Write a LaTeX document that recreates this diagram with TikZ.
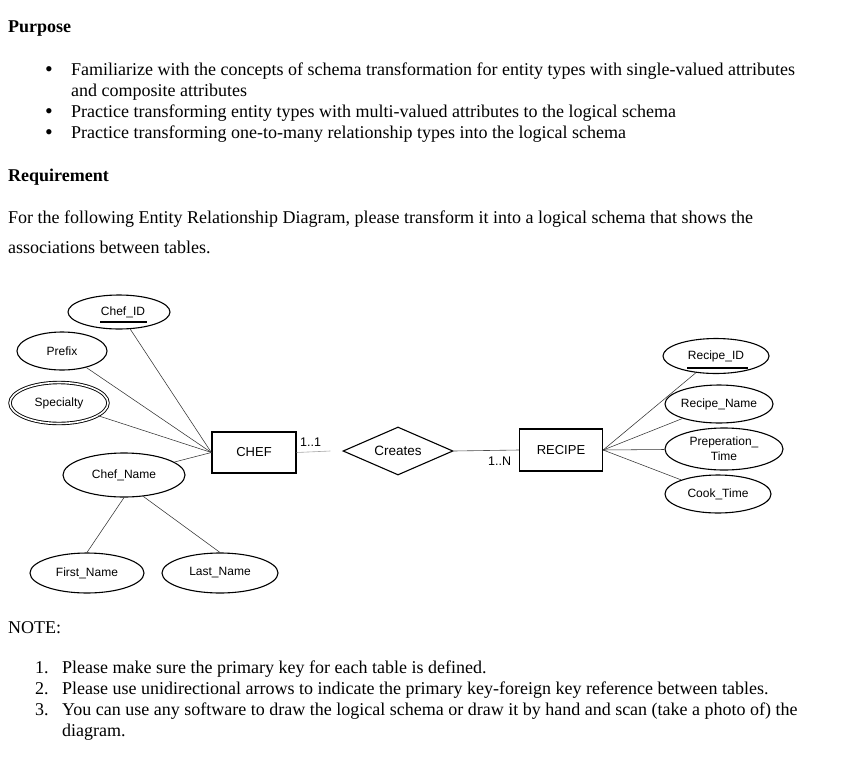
\documentclass[tikz,border=0pt]{standalone}
\usepackage{fontspec}
\setmainfont{Liberation Serif}
\newfontfamily\diag{Liberation Sans}
\usetikzlibrary{shapes.geometric}
\begin{document}
\begin{tikzpicture}[x=1pt,y=-1pt,
  body/.style={anchor=base west,inner sep=0pt,font=\fontsize{18}{21}\selectfont},
  bul/.style={anchor=base west,inner sep=0pt,font=\fontsize{22}{21}\selectfont},
  head/.style={anchor=base west,inner sep=0pt,font=\fontsize{18}{21}\selectfont\bfseries},
  attr/.style={ellipse,draw,line width=1.1pt,inner sep=0pt,font=\diag\fontsize{12}{13}\selectfont,align=center},
  ent/.style={rectangle,draw,line width=1.3pt,inner sep=0pt,font=\diag\fontsize{13}{15}\selectfont},
  rel/.style={diamond,draw,line width=1.1pt,inner sep=0pt,font=\diag\fontsize{13.5}{15}\selectfont},
  conn/.style={draw=black!80,line width=0.55pt},
  card/.style={anchor=base west,inner sep=0pt,font=\diag\fontsize{12.5}{14}\selectfont},
  pk/.style={line width=1.6pt}
]
\useasboundingbox (0,0) rectangle (841,774);

% ---- text ----
\node[head] (purpose) at (8,32) {Purpose};
\node[bul] (b1) at (45,76) {\textbullet};
\node[body] (t1) at (71,75) {Familiarize with the concepts of schema transformation for entity types with single-valued attributes};
\node[body] (t1b) at (71,96) {and composite attributes};
\node[bul] (b2) at (45,118) {\textbullet};
\node[body] (t2) at (71,117) {Practice transforming entity types with multi-valued attributes to the logical schema};
\node[bul] (b3) at (45,139) {\textbullet};
\node[body] (t3) at (71,138) {Practice transforming one-to-many relationship types into the logical schema};

\node[head] (req) at (8,181) {Requirement};
\node[body] (r1) at (8,223) {For the following Entity Relationship Diagram, please transform it into a logical schema that shows the};
\node[body] (r2) at (8,253) {associations between tables.};

\node[body] (note) at (8,633) {NOTE:};
\node[body] (n1) at (35,673) {1.};
\node[body] (n1t) at (62,673) {Please make sure the primary key for each table is defined.};
\node[body] (n2) at (35,694) {2.};
\node[body] (n2t) at (62,694) {Please use unidirectional arrows to indicate the primary key-foreign key reference between tables.};
\node[body] (n3) at (35,715) {3.};
\node[body] (n3t) at (62,715) {You can use any software to draw the logical schema or draw it by hand and scan (take a photo of) the};
\node[body] (n3b) at (62,736) {diagram.};

% ---- diagram ----
\node[ent,minimum width=84pt,minimum height=41pt] (chef) at (254,452.5) {CHEF};
\node[ent,minimum width=83pt,minimum height=42pt] (recipe) at (561,450) {RECIPE};
\node[rel,minimum width=110pt,minimum height=48pt,aspect=2.3] (creates) at (398,451) {Creates};

\node[attr,minimum width=102pt,minimum height=34pt] (cid) at (119,312) {\hspace*{8pt}Chef\_ID};
\node[attr,minimum width=90pt,minimum height=38pt] (prefix) at (62,351) {Prefix};
\node[attr,minimum width=98pt,minimum height=41pt,double,double distance=1.6pt,line width=0.9pt] (spec) at (59,403) {Specialty};
\node[attr,minimum width=122pt,minimum height=44pt] (cname) at (124,475) {Chef\_Name};
\node[attr,minimum width=114pt,minimum height=40pt] (fname) at (87,573) {First\_Name};
\node[attr,minimum width=116pt,minimum height=40pt] (lname) at (220,573) {Last\_Name};

\node[attr,minimum width=106pt,minimum height=35pt] (rid) at (716,356) {Recipe\_ID};
\node[attr,minimum width=108pt,minimum height=38pt] (rname) at (719,404) {Recipe\_Name};
\node[attr,minimum width=118pt,minimum height=42pt,font=\diag\fontsize{12}{15}\selectfont] (ptime) at (724,449) {Preperation\_\\Time};
\node[attr,minimum width=106pt,minimum height=38pt] (ctime) at (718,494) {Cook\_Time};

% primary key underlines
\draw[pk] ([xshift=-19pt,yshift=-10pt]cid.center) -- ([xshift=28pt,yshift=-10pt]cid.center);
\draw[pk] ([xshift=-29pt,yshift=-12pt]rid.center) -- ([xshift=32pt,yshift=-12pt]rid.center);

% attribute connectors
\foreach \a in {cid,prefix,spec,cname} \draw[conn] (chef.west) -- (\a);
\foreach \a in {rid,rname,ptime,ctime} \draw[conn] (recipe.east) -- (\a);
\draw[conn] (cname.south) -- (fname.north);
\draw[conn] (cname.-48) -- (lname.north);

% relationship connectors
\draw[draw=black!35,line width=0.6pt] (chef.east) -- ([xshift=-12pt]creates.west);
\draw[draw=black!70,line width=0.6pt] (creates.east) -- (recipe.west);
\node[card] (c11) at (300,446) {1..1};
\node[card] (c1n) at (488,465) {1..N};
\end{tikzpicture}
\end{document}
